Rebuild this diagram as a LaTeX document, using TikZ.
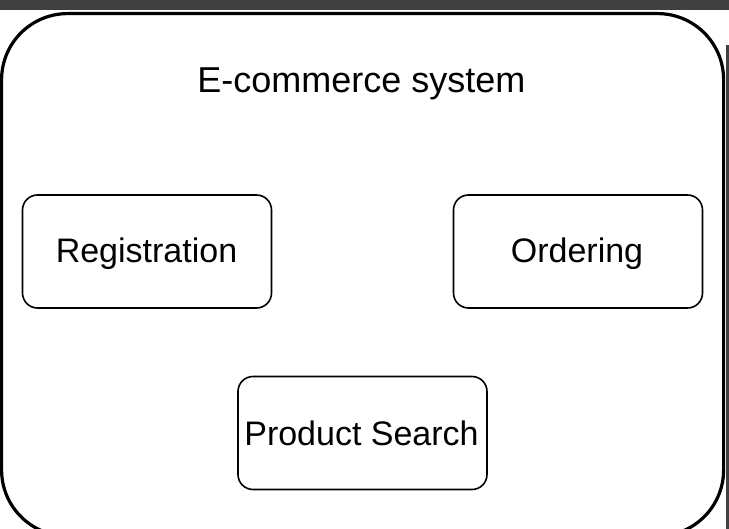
\documentclass[tikz,border=0pt]{standalone}
\usepackage{fontspec}
\setmainfont{Liberation Sans}
\begin{document}
\begin{tikzpicture}[x=1pt,y=-1pt,
  component/.style={draw=black,line width=1.6pt,rounded corners=15pt,
    minimum width=249pt,minimum height=113pt,inner sep=0pt},
  label/.style={inner sep=0pt,anchor=base,font=\fontsize{34}{40}\selectfont},
  title/.style={inner sep=0pt,anchor=base,font=\fontsize{36}{42}\selectfont}]
\useasboundingbox (0,0) rectangle (729,529);
\clip (0,0) rectangle (729,529);
\fill[white] (0,0) rectangle (729,529);
\fill[black!75] (0,0) rectangle (729,10);
\fill[black!75] (726,45) rectangle (729,529);
\draw[line width=3.2pt,rounded corners=66pt] (1.6,13.6) rectangle (723.6,536);
\node[title] (sys) at (361.5,93) {E-commerce system};
\node[component] (reg) at (147,251.5) {};
\node[component] (ord) at (578,251.5) {};
\node[component] (ps) at (362.5,433) {};
\node[label] (regt) at (146.5,263) {Registration};
\node[label] (ordt) at (577,263) {Ordering};
\node[label] (pst) at (361.5,446) {Product Search};
\end{tikzpicture}
\end{document}
